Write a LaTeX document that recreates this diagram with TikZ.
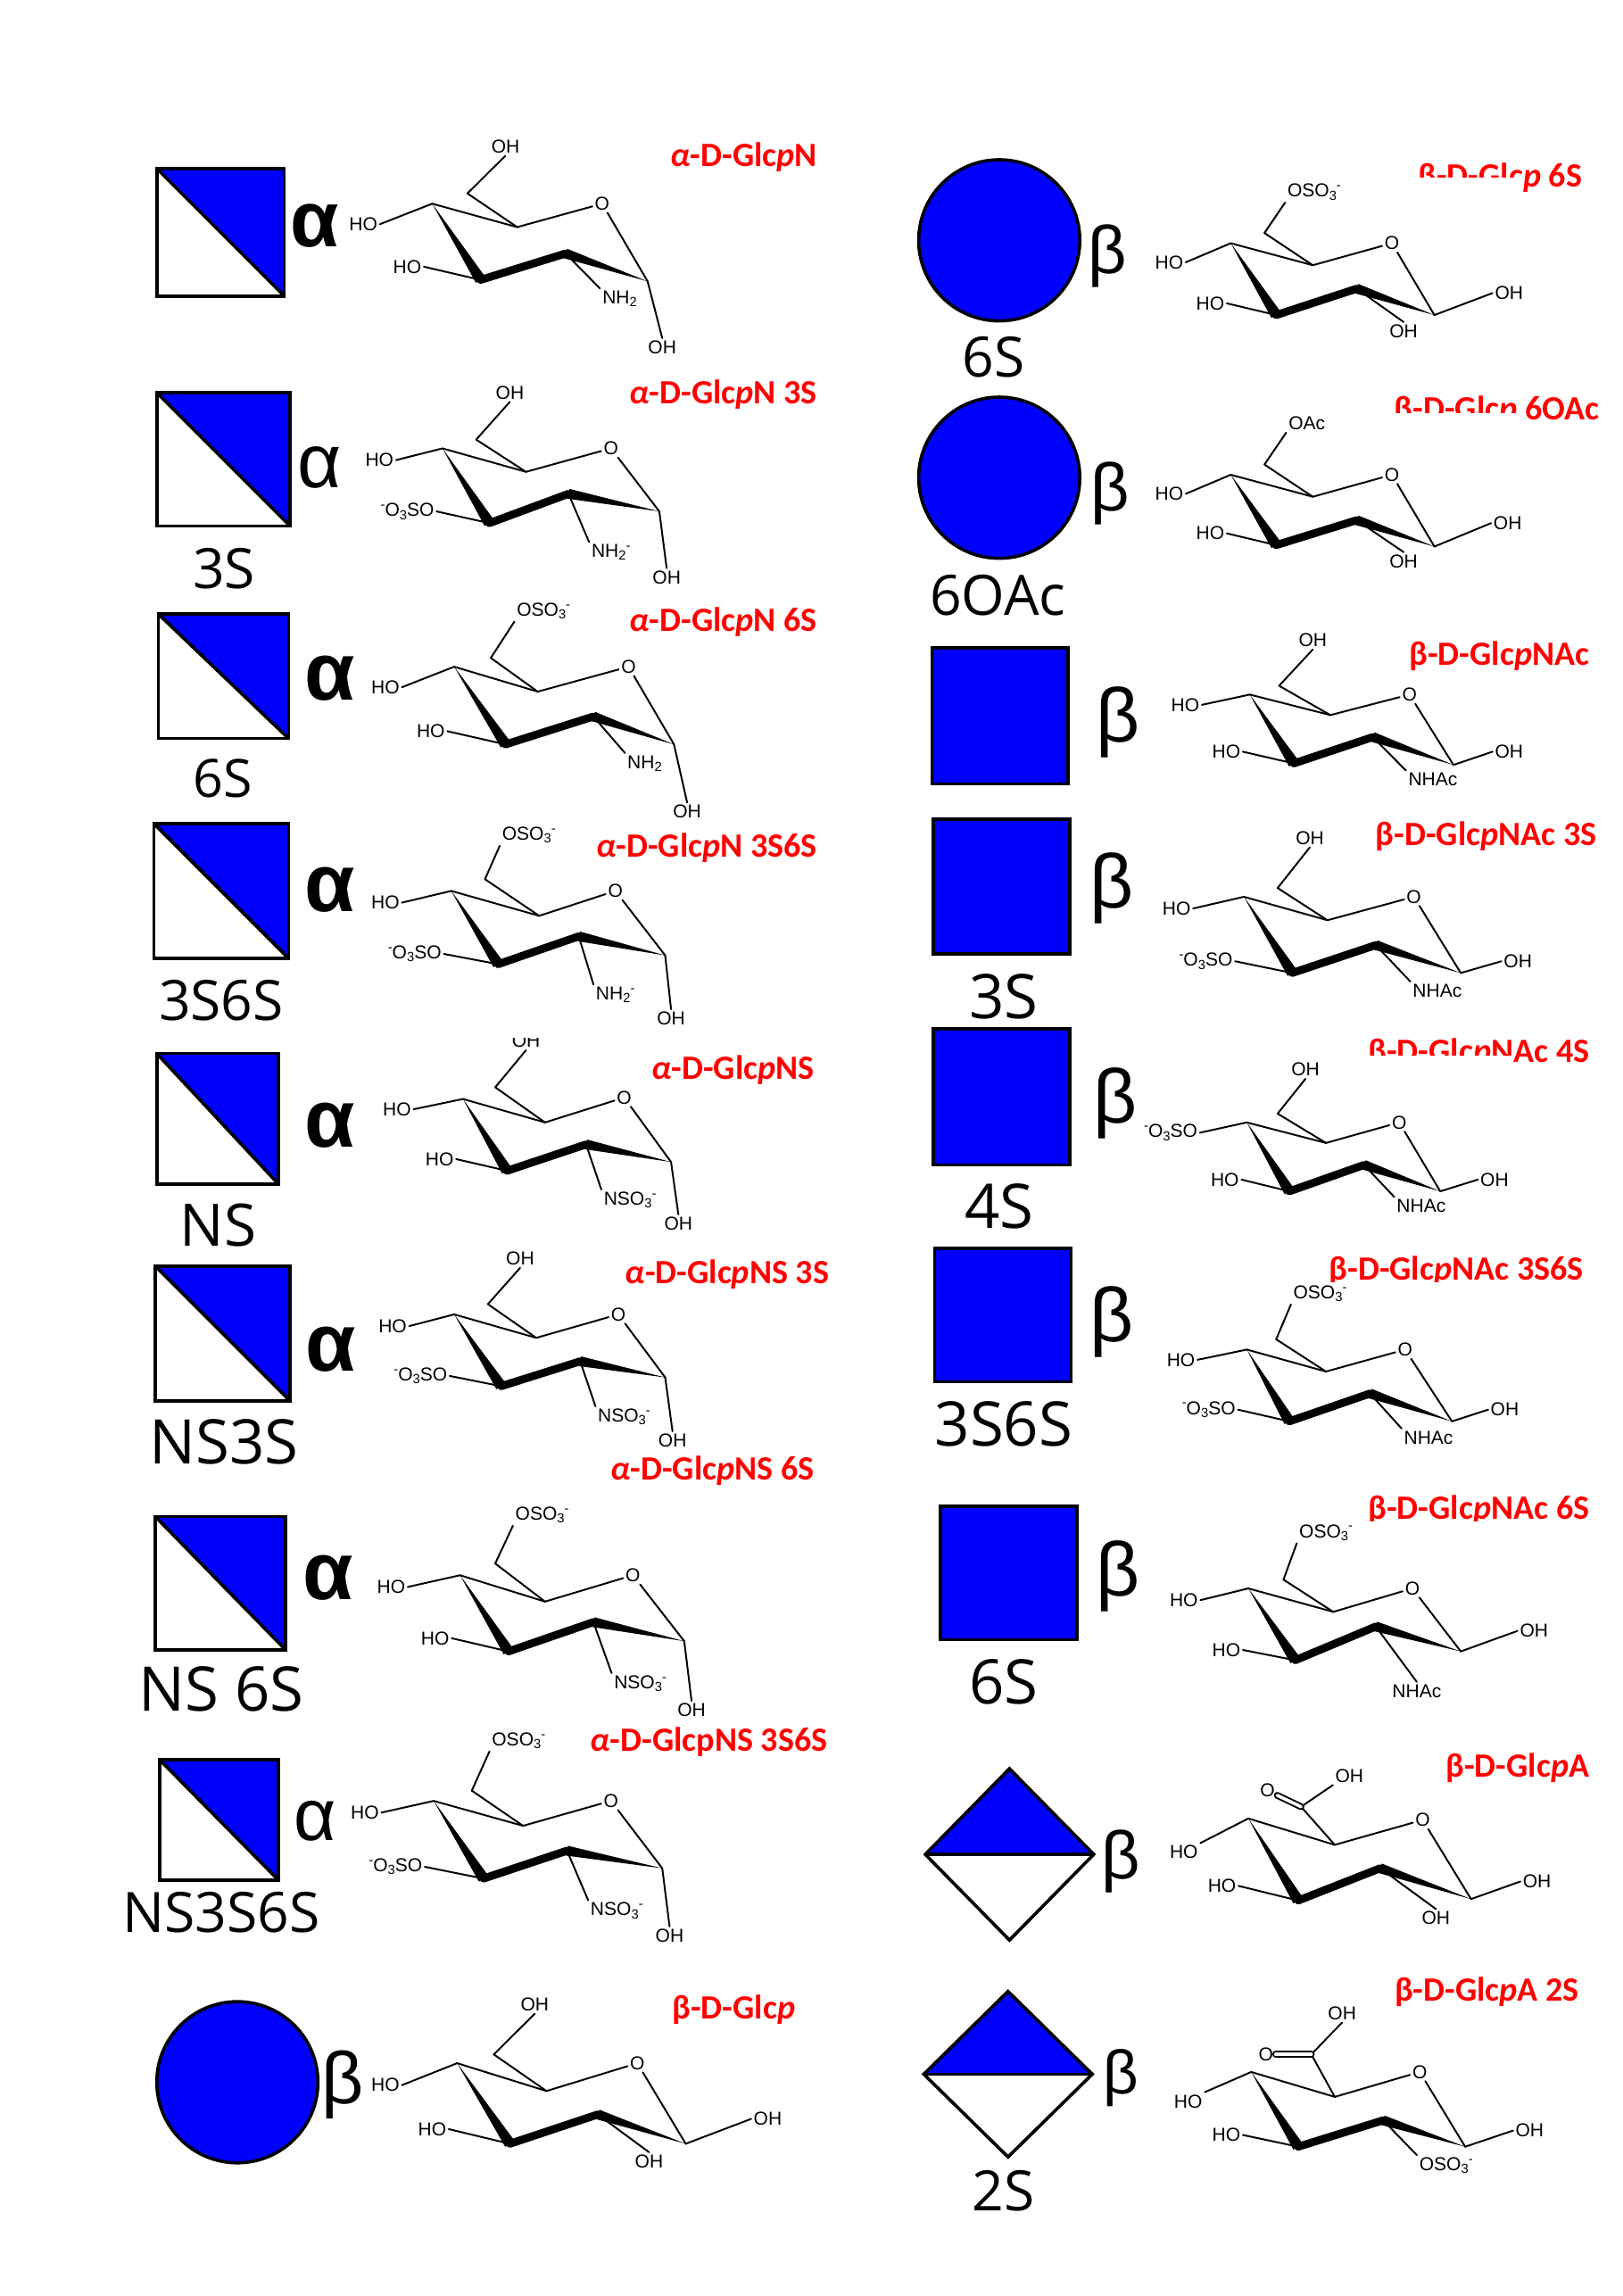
\documentclass[tikz,border=0pt]{standalone}
\usepackage{fontspec}
\setmainfont{Liberation Sans}
\newfontfamily\redfont{Carlito}
\newfontfamily\symfont{Open Sans}
\usetikzlibrary{calc}
\definecolor{gblue}{RGB}{0,0,255}
\definecolor{gred}{RGB}{255,0,0}
\tikzset{
  bond/.style={line width=1.2pt,line cap=round,line join=round},
  chem/.style={font=\fontsize{12.8}{13}\selectfont,inner sep=1.5pt,text=black},
  redl/.style={font=\redfont\bfseries\fontsize{23.2}{24}\selectfont,text=gred,anchor=east,inner sep=0pt,yshift=-1.5pt},
  greek/.style={inner sep=0pt,text=black,yshift=-3pt},
  symb/.style={inner sep=0pt,text=black},
  glyph/.style={draw=black,line width=2.2pt,line join=miter},
  blank/.style={fill=white,draw=none},
}
\newcommand{\dn}[1]{\raisebox{-0.3ex}{\fontsize{9}{9}\selectfont #1}}
\newcommand{\up}[1]{\raisebox{0.75ex}{\fontsize{9}{9}\selectfont #1}}
\newcommand{\OSO}{OSO\dn{3}\up{-}}
\newcommand{\SOO}{\up{-}O\dn{3}SO}
\newcommand{\NHH}{NH\dn{2}}
\newcommand{\NSO}{NSO\dn{3}\up{-}}
\newcommand{\ring}[7]{%
  \coordinate (c4) at (#1); \coordinate (c5) at (#2);
  \node[chem] (o) at (#3) {O};
  \coordinate (c1) at (#4); \coordinate (c2) at (#5);
  \coordinate (c3) at (#6); \coordinate (c6) at (#7);
  \draw[bond] (c4) -- (c5) -- (o) -- (c1);
  \draw[bond] (c5) -- (c6);
  \fill (c4) -- ($(c3)!3.8pt!90:(c4)$) -- ($(c3)!3.8pt!-90:(c4)$) -- cycle;
  \draw[line width=5.4pt,line join=round,line cap=round] (c3) -- (c2);
  \fill (c1) -- ($(c2)!3.4pt!90:(c1)$) -- ($(c2)!3.4pt!-90:(c1)$) -- cycle;
}
\newcommand{\subst}[5]{%
  \node[chem] (#2) at (#3) {#4};
  \draw[bond] (#1) -- (#2.#5);
}
\newcommand{\halfsq}[4]{%
  \fill[gblue] (#1,#2) -- (#3,#2) -- (#3,#4) -- cycle;
  \draw[glyph] (#1,#2) rectangle (#3,#4);
  \draw[glyph] (#1,#2) -- (#3,#4);
}
\newcommand{\fullsq}[4]{\draw[glyph,fill=gblue] (#1,#2) rectangle (#3,#4);}
\newcommand{\halfdi}[4]{% top x, top y, half width, half height
  \fill[gblue] (#1,#2) -- (#1+#3,#2+#4) -- (#1-#3,#2+#4) -- cycle;
  \draw[glyph] (#1,#2) -- (#1+#3,#2+#4) -- (#1,#2+#4+#4) -- (#1-#3,#2+#4) -- cycle;
  \draw[glyph] (#1-#3,#2+#4) -- (#1+#3,#2+#4);
}
\newcommand{\grk}[5]{\node[greek,font=\fontsize{#4}{#4}\selectfont] (#1) at (#2,#3) {#5};}
\newcommand{\grb}[5]{\node[greek,font=\bfseries\fontsize{#4}{#4}\selectfont] (#1) at (#2,#3) {#5};}
\newcommand{\sy}[5]{\node[symb,font=\symfont\fontsize{#4}{#4}\selectfont] (#1) at (#2,#3) {#5};}
\newcommand{\rl}[4]{\node[redl] (#1) at (#2,#3) {#4};}
\newcommand{\aD}{\textit{α}}
\begin{document}
\begin{tikzpicture}[x=1pt,y=-1pt]
\useasboundingbox (0,0) rectangle (1107.7,1566.9);
\fill[white] (0,0) rectangle (1107.7,1566.9);

% ---- left column glyphs
\halfsq{107}{115}{194}{202} \grb{g1}{215}{151}{54}{α}
\halfsq{107}{268}{198}{359} \grk{g2}{218}{316}{52}{α} \sy{s2}{153}{388}{38}{3S}
\halfsq{108}{419}{197}{504} \grb{g3}{225}{460}{56}{α} \sy{s3}{152}{531}{36}{6S}
\halfsq{105}{562}{197}{654} \grb{g4}{225}{604}{56}{α} \sy{s4}{151}{683}{38}{3S6S}
\halfsq{107}{719}{190}{808} \grb{g5}{225}{765}{56}{α} \sy{s5}{149}{836}{40}{NS}
\halfsq{106}{864}{198}{956} \grb{g6}{226}{918}{56}{α} \sy{s6}{153}{984}{42}{NS3S}
\halfsq{106}{1035}{195}{1126} \grb{g7}{224}{1074}{56}{α} \sy{s7}{151}{1153}{42}{NS 6S}
\halfsq{109}{1201}{190}{1283} \grk{g8}{215}{1240}{50}{α} \sy{s8}{151}{1305}{38}{NS3S6S}
\draw[glyph,fill=gblue] (162,1421) circle (55); \grk{g9}{234}{1420}{50}{β}

% ---- right column glyphs
\draw[glyph,fill=gblue] (682,164) circle (55); \grk{g10}{756}{172}{46}{β} \sy{s10}{678}{244}{38}{6S}
\draw[glyph,fill=gblue] (682,326) circle (55); \grk{g11}{758}{334}{46}{β} \sy{s11}{681}{406}{38}{6OAc}
\fullsq{636}{442}{729}{535} \grk{g12}{763}{490}{52}{β}
\fullsq{637}{559}{730}{651} \grk{g13}{759}{603}{52}{β} \sy{s13}{685}{680}{42}{3S}
\fullsq{637}{702}{730}{795} \grk{g14}{761}{750}{52}{β} \sy{s14}{682}{823}{42}{4S}
\fullsq{638}{852}{731}{943} \grk{g15}{759}{899}{52}{β} \sy{s15}{685}{972}{42}{3S6S}
\fullsq{642}{1028}{735}{1119} \grk{g16}{763}{1073}{52}{β} \sy{s16}{685}{1148}{42}{6S}
\halfdi{689}{1207}{57.5}{58.5} \grk{g17}{765}{1267}{46}{β}
\halfdi{688}{1359}{57.5}{56.5} \grk{g18}{765}{1415}{42}{β} \sy{s18}{685}{1495}{38}{2S}

% ---- red names
\rl{n1}{558}{106}{\aD-D-Glc\textit{p}N}
\rl{n2}{558}{268}{\aD-D-Glc\textit{p}N 3S}
\rl{n3}{558}{423}{\aD-D-Glc\textit{p}N 6S}
\rl{n4}{558}{577}{\aD-D-Glc\textit{p}N 3S6S}
\rl{n5}{556}{729}{\aD-D-Glc\textit{p}NS}
\rl{n6}{566}{868}{\aD-D-Glc\textit{p}NS 3S}
\rl{n7}{556}{1002}{\aD-D-Glc\textit{p}NS 6S}
\rl{n8}{565}{1187}{\aD-D-GlcpNS 3S6S}
\rl{n9}{543}{1370}{β-D-Glc\textit{p}}
\rl{n10}{1080}{120}{β-D-Glc\textit{p} 6S}
\rl{n11}{1092}{279}{β-D-Glc\textit{p} 6OAc}
\rl{n12}{1085}{446}{β-D-Glc\textit{p}NAc}
\rl{n13}{1090}{569}{β-D-Glc\textit{p}NAc 3S}
\rl{n14}{1085}{717}{β-D-Glc\textit{p}NAc 4S}
\rl{n15}{1081}{866}{β-D-Glc\textit{p}NAc 3S6S}
\rl{n16}{1085}{1029}{β-D-Glc\textit{p}NAc 6S}
\rl{n17}{1085}{1205}{β-D-Glc\textit{p}A}
\rl{n18}{1078}{1358}{β-D-Glc\textit{p}A 2S}

% ---- white bands that cut the names, as in the reference
\fill[blank] (960,121.2) rectangle (1039.8,136);
\fill[blank] (940,282) rectangle (1035.5,298);
\fill[blank] (925,720.6) rectangle (1032.5,736);
\fill[blank] (900,875) rectangle (1085,888);
\fill[blank] (925,1038) rectangle (1090,1052);

% ---- rings, left column
\begin{scope}[name prefix=r1-]
\ring{295,139}{353,155}{411,139}{442,192}{386,173}{328,191}{319,132}
\subst{c6}{a}{345,100}{OH}{south}
\subst{c4}{b}{248,153}{HO}{east}
\subst{c3}{d}{278,182}{HO}{east}
\subst{c2}{e}{423,204}{\NHH}{north west}
\subst{c1}{f}{452,237}{OH}{north}
\end{scope}
\begin{scope}[name prefix=r2-]
\ring{302,306}{359,322}{417,306}{450,349}{388,337}{334,357}{325,300}
\subst{c6}{a}{348,268}{OH}{south}
\subst{c4}{b}{259,314}{HO}{east}
\subst{c3}{d}{278,349}{\SOO}{east}
\subst{c2}{e}{417,377}{\NHH\up{-}}{north west}
\subst{c1}{f}{455,394}{OH}{north}
\end{scope}
\begin{scope}[name prefix=r3-]
\ring{310,455}{367,472}{429,455}{460,508}{405,489}{345,508}{335,449}
\subst{c6}{a}{371,417}{\OSO}{south west}
\subst{c4}{b}{263,469}{HO}{east}
\subst{c3}{d}{294,499}{HO}{east}
\subst{c2}{e}{440,521}{\NHH}{north west}
\subst{c1}{f}{469,554}{OH}{north}
\end{scope}
\begin{scope}[name prefix=r4-]
\ring{308,608}{368,625}{420,608}{454,652}{395,639}{340,658}{331,600}
\subst{c6}{a}{361,570}{\OSO}{south west}
\subst{c4}{b}{263,616}{HO}{east}
\subst{c3}{d}{283,651}{\SOO}{east}
\subst{c2}{e}{420,679}{\NHH\up{-}}{north west}
\subst{c1}{f}{458,695}{OH}{north}
\end{scope}
\begin{scope}[name prefix=r5-]
\ring{316,750}{372,766}{426,749}{458,793}{400,781}{346,799}{338,742}
\subst{c6}{a}{359,710.5}{OH}{south}
\subst{c4}{b}{271,757}{HO}{east}
\subst{c3}{d}{300,791}{HO}{east}
\subst{c2}{e}{430,819}{\NSO}{north west}
\subst{c1}{f}{463,835}{OH}{north}
\fill[blank] (340,696) rectangle (380,708);
\end{scope}
\begin{scope}[name prefix=r6-]
\ring{310,897}{366,913}{422,897}{454,940}{396,929}{342,946}{333,890}
\subst{c6}{a}{355,859}{OH}{south}
\subst{c4}{b}{268,905}{HO}{east}
\subst{c3}{d}{287,939}{\SOO}{east}
\subst{c2}{e}{426,967}{\NSO}{north west}
\subst{c1}{f}{459,983}{OH}{north}
\end{scope}
\begin{scope}[name prefix=r7-]
\ring{314,1075}{372,1093}{432,1075}{467,1120}{405,1107}{347,1127}{338,1067}
\subst{c6}{a}{370,1034}{\OSO}{south west}
\subst{c4}{b}{267,1083}{HO}{east}
\subst{c3}{d}{297,1118}{HO}{east}
\subst{c2}{e}{437,1149}{\NSO}{north west}
\subst{c1}{f}{472,1167}{OH}{north}
\end{scope}
\begin{scope}[name prefix=r8-]
\ring{296,1229}{357,1246}{417,1229}{452,1275}{387,1263}{330,1282}{322,1222}
\subst{c6}{a}{354,1188}{\OSO}{south west}
\subst{c4}{b}{249,1237}{HO}{east}
\subst{c3}{d}{270,1274}{\SOO}{east}
\subst{c2}{e}{421,1304}{\NSO}{north west}
\subst{c1}{f}{457,1321}{OH}{north}
\end{scope}
\begin{scope}[name prefix=r9-]
\ring{312,1408}{373,1427}{435,1408}{468,1463}{408,1443}{348,1463}{337,1402}
\subst{c6}{a}{365,1368}{OH}{south}
\subst{c4}{b}{263,1423}{HO}{east}
\subst{c3}{d}{295,1453}{HO}{east}
\subst{c2}{e}{443,1475}{OH}{north}
\subst{c1}{f}{524,1446}{OH}{west}
\end{scope}

% ---- rings, right column
\begin{scope}[name prefix=r10-]
\ring{840,166}{896,181}{950,166}{979,215}{926,197}{871,215}{863,159}
\subst{c6}{a}{897,131}{\OSO}{south west}
\subst{c4}{b}{798,179}{HO}{east}
\subst{c3}{d}{826,207}{HO}{east}
\subst{c2}{e}{958,226}{OH}{north}
\subst{c1}{f}{1030,200}{OH}{west}
\end{scope}
\begin{scope}[name prefix=r11-]
\ring{840,324}{896,339}{950,324}{979,373}{926,355}{871,372}{863,317}
\subst{c6}{a}{892,289}{OAc}{south west}
\subst{c4}{b}{798,337}{HO}{east}
\subst{c3}{d}{826,364}{HO}{east}
\subst{c2}{e}{958,383}{OH}{north}
\subst{c1}{f}{1029,357}{OH}{west}
\end{scope}
\begin{scope}[name prefix=r12-]
\ring{853,474}{908,488}{962,474}{992,522}{937,503}{883,521}{873,468}
\subst{c6}{a}{896,437}{OH}{south}
\subst{c4}{b}{809,481}{HO}{east}
\subst{c3}{d}{837,513}{HO}{east}
\subst{c2}{e}{978,532}{NHAc}{north west}
\subst{c1}{f}{1030,513}{OH}{west}
\end{scope}
\begin{scope}[name prefix=r13-]
\ring{849,612}{906,628}{965,612}{997,664}{939,645}{882,664}{872,606}
\subst{c6}{a}{894,572}{OH}{south}
\subst{c4}{b}{803,620}{HO}{east}
\subst{c3}{d}{823,656}{\SOO}{east}
\subst{c2}{e}{981,676}{NHAc}{north west}
\subst{c1}{f}{1036,656}{OH}{west}
\end{scope}
\begin{scope}[name prefix=r14-]
\ring{851,766}{905,780}{955,766}{983,813}{931,795}{880,813}{872,760}
\subst{c6}{a}{891,730}{OH}{south}
\subst{c4}{b}{799,773}{\SOO}{east}
\subst{c3}{d}{836,805}{HO}{east}
\subst{c2}{e}{970,823}{NHAc}{north west}
\subst{c1}{f}{1020,805}{OH}{west}
\end{scope}
\begin{scope}[name prefix=r15-]
\ring{851,921}{905,936}{959,921}{991,970}{935,951}{880,970}{871,914}
\subst{c6}{a}{901,883}{\OSO}{south west}
\subst{c4}{b}{806,928}{HO}{east}
\subst{c3}{d}{825,962}{\SOO}{east}
\subst{c2}{e}{975,981}{NHAc}{north west}
\subst{c1}{f}{1027,962}{OH}{west}
\end{scope}
\begin{scope}[name prefix=r16-]
\ring{852,1084}{910,1100}{964,1084}{997,1127}{939,1110}{884,1133}{876,1078}
\subst{c6}{a}{905,1046}{\OSO}{south west}
\subst{c4}{b}{808,1092}{HO}{east}
\subst{c3}{d}{837,1126}{HO}{east}
\subst{c2}{e}{967,1154}{NHAc}{north}
\subst{c1}{f}{1047,1113}{OH}{west}
\end{scope}
\begin{scope}[name prefix=r17-]
\ring{852,1241}{911,1259}{971,1242}{1004,1296}{942,1275}{886,1297}{888,1233}
\subst{c6}{a}{921,1212}{OH}{south west}
\node[chem] (g) at (865,1222) {O};
\draw[bond,double,double distance=2.2pt] (c6) -- (g);
\subst{c4}{b}{808,1264}{HO}{north east}
\subst{c3}{d}{834,1287}{HO}{east}
\subst{c2}{e}{980,1309}{OH}{north}
\subst{c1}{f}{1049,1284}{OH}{west}
\end{scope}
\begin{scope}[name prefix=r18-]
\ring{854,1414}{911,1431}{969,1414}{1000,1465}{944,1447}{886,1465}{895,1402}
\subst{c6}{a}{916,1374}{OH}{south}
\node[chem] (g) at (864,1402) {O};
\draw[bond,double,double distance=2.2pt] (c6) -- (g);
\subst{c4}{b}{811,1434}{HO}{north east}
\subst{c3}{d}{837,1457}{HO}{east}
\subst{c2}{e}{987,1478}{\OSO}{north west}
\subst{c1}{f}{1044,1454}{OH}{west}
\end{scope}
\end{tikzpicture}
\end{document}
